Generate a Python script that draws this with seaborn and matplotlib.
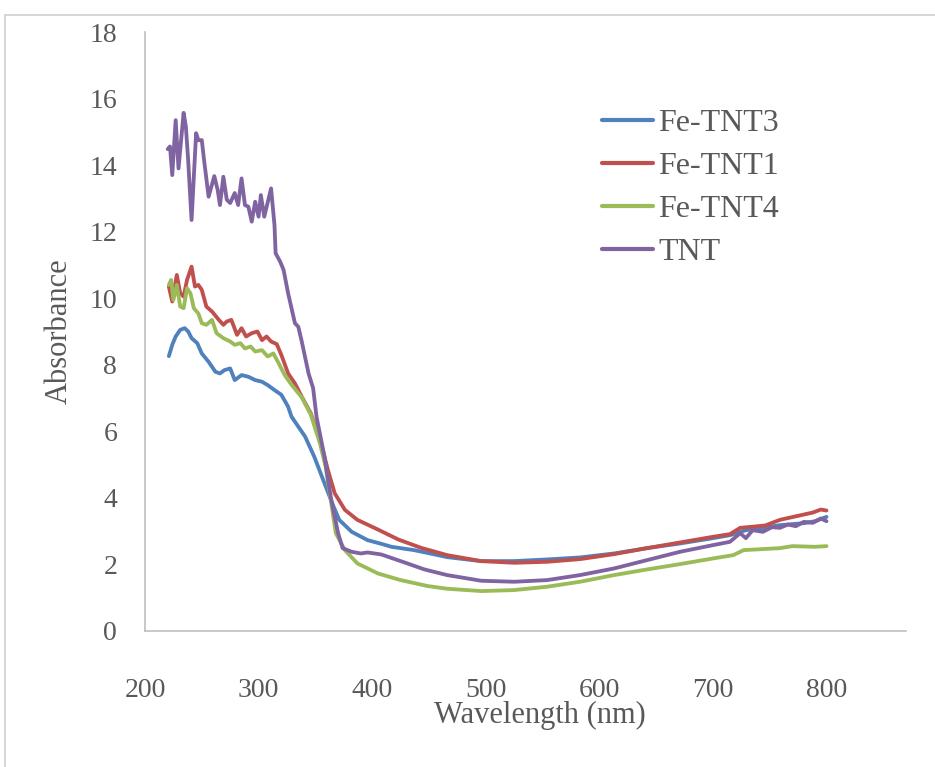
import pandas as pd
import matplotlib.pyplot as plt
import seaborn as sns
from matplotlib.patches import Rectangle

# Wavelength (nm) / absorbance pairs
wl_fe_tnt3 = [221, 224, 227, 231, 235, 238, 241, 246, 250, 256, 262, 266, 270, 275, 279,
              285, 291, 297, 303, 308, 314, 320, 326, 329, 341, 349, 358, 366, 371, 382,
              396, 408, 417, 437, 458, 466, 496, 525, 554, 583, 613, 642, 671, 700, 715,
              729, 745, 759, 780, 790, 800]
abs_fe_tnt3 = [8.26, 8.6, 8.85, 9.05, 9.1, 9.0, 8.8, 8.65, 8.34, 8.09, 7.79, 7.74, 7.84, 7.89, 7.54,
               7.69, 7.64, 7.54, 7.49, 7.39, 7.24, 7.1, 6.74, 6.44, 5.84, 5.24, 4.44, 3.74, 3.34, 2.98,
               2.73, 2.62, 2.53, 2.43, 2.28, 2.22, 2.1, 2.1, 2.15, 2.21, 2.33, 2.49, 2.63, 2.79, 2.88,
               3.03, 3.1, 3.18, 3.24, 3.3, 3.43]

wl_fe_tnt1 = [221, 224, 228, 231, 234, 237, 241, 244, 247, 250, 254, 259, 265, 269, 272,
              276, 281, 285, 289, 294, 299, 303, 307, 311, 316, 320, 326, 332, 338, 346,
              355, 361, 367, 376, 387, 405, 423, 443, 466, 496, 525, 554, 583, 613, 642,
              671, 700, 715, 724, 746, 759, 788, 795, 800]
abs_fe_tnt1 = [10.35, 9.9, 10.7, 10.15, 10.05, 10.55, 10.95, 10.35, 10.4, 10.25, 9.75, 9.6, 9.35, 9.2, 9.3,
               9.35, 8.9, 9.1, 8.85, 8.95, 9.0, 8.74, 8.85, 8.7, 8.62, 8.3, 7.74, 7.44, 7.04, 6.54,
               5.64, 4.84, 4.14, 3.64, 3.34, 3.05, 2.75, 2.5, 2.28, 2.1, 2.05, 2.08, 2.16, 2.31, 2.49,
               2.66, 2.83, 2.91, 3.1, 3.17, 3.34, 3.56, 3.65, 3.62]

wl_fe_tnt4 = [221, 223, 225, 228, 231, 234, 237, 240, 243, 247, 250, 254, 259, 263, 269,
              275, 279, 284, 288, 293, 297, 303, 308, 313, 317, 323, 329, 338, 346, 354,
              359, 364, 368, 376, 387, 405, 425, 449, 466, 496, 525, 554, 583, 613, 642,
              671, 700, 718, 727, 759, 770, 790, 800]
abs_fe_tnt4 = [10.4, 10.55, 9.95, 10.4, 9.75, 9.7, 10.3, 10.15, 9.7, 9.54, 9.25, 9.2, 9.35, 8.95, 8.8,
               8.7, 8.6, 8.65, 8.49, 8.55, 8.4, 8.44, 8.25, 8.34, 8.09, 7.69, 7.4, 7.02, 6.5, 5.64,
               4.94, 3.84, 2.94, 2.43, 2.03, 1.73, 1.53, 1.35, 1.27, 1.2, 1.23, 1.33, 1.48, 1.68, 1.85,
               2.01, 2.18, 2.28, 2.43, 2.49, 2.55, 2.53, 2.55]

wl_tnt = [220, 222, 224, 227, 229.5, 234, 236, 238, 241, 245, 247, 250, 252, 256, 261,
          264, 266, 269, 272, 275, 279, 282, 285, 288, 291, 294, 297, 300, 302, 305,
          311, 314, 315, 319, 322, 326, 332, 335, 338, 344, 348, 351, 358, 364, 370,
          374, 382, 390, 396, 402, 408, 414, 431, 446, 466, 496, 525, 554, 583, 613,
          642, 671, 700, 715, 724, 729, 735, 744, 752, 759, 766, 773, 780, 788, 795, 800]
abs_tnt = [14.48, 14.56, 13.7, 15.35, 13.9, 15.57, 15.15, 14.15, 12.35, 14.96, 14.75, 14.75, 14.15, 13.05, 13.67,
           13.25, 12.8, 13.65, 12.96, 12.86, 13.16, 12.8, 13.6, 12.8, 12.75, 12.3, 12.9, 12.45, 13.1, 12.45,
           13.3, 12.2, 11.35, 11.1, 10.85, 10.15, 9.25, 9.14, 8.7, 7.74, 7.3, 6.44, 5.24, 3.94, 2.94,
           2.49, 2.38, 2.33, 2.36, 2.33, 2.3, 2.23, 2.03, 1.85, 1.68, 1.51, 1.48, 1.53, 1.68, 1.88,
           2.13, 2.38, 2.58, 2.68, 2.94, 2.79, 3.03, 2.98, 3.12, 3.1, 3.2, 3.15, 3.28, 3.25, 3.38, 3.3]

sample_names = ["Fe-TNT3", "Fe-TNT1", "Fe-TNT4", "TNT"]
sample_colors = ["#4F81BD", "#C0504D", "#9BBB59", "#8064A2"]

x_ticks = [200, 300, 400, 500, 600, 700, 800]
y_ticks = [0, 2, 4, 6, 8, 10, 12, 14, 16, 18]

frames = []
for name, wl, ab in zip(sample_names,
                        [wl_fe_tnt3, wl_fe_tnt1, wl_fe_tnt4, wl_tnt],
                        [abs_fe_tnt3, abs_fe_tnt1, abs_fe_tnt4, abs_tnt]):
    frames.append(pd.DataFrame({"Wavelength": wl, "Absorbance": ab, "Sample": name}))
df = pd.concat(frames, ignore_index=True)

sns.set_style("white")
plt.rcParams["font.family"] = ["Liberation Serif", "DejaVu Serif"]
text_color = "#595959"

fig = plt.figure(figsize=(9.35, 7.67), dpi=100)
ax = fig.add_axes([145 / 935, 1 - 631 / 767, (906 - 145) / 935, (631 - 32) / 767])

# light outer chart border
fig.patches.append(Rectangle((5 / 935, -0.1), 1.2, 1 - 15 / 767 + 0.1,
                             transform=fig.transFigure, fill=False,
                             edgecolor="#d0d0d0", linewidth=1.2))

sns.lineplot(data=df, x="Wavelength", y="Absorbance", hue="Sample",
             hue_order=sample_names, palette=sample_colors,
             estimator=None, sort=False, linewidth=2.75, ax=ax)

ax.set_xlim(200, 870)
ax.set_ylim(0, 18)
ax.set_xticks(x_ticks)
ax.set_yticks(y_ticks)
ax.tick_params(axis="both", length=0, labelsize=20, labelcolor=text_color)
ax.tick_params(axis="x", pad=34)
ax.tick_params(axis="y", pad=20)

for side in ["top", "right"]:
    ax.spines[side].set_visible(False)
for side in ["left", "bottom"]:
    ax.spines[side].set_color("#bfbfbf")
    ax.spines[side].set_linewidth(1.2)

ax.set_xlabel("Wavelength (nm)", fontsize=22, color=text_color)
ax.set_ylabel("Absorbance", fontsize=22, color=text_color)
ax.xaxis.set_label_coords(0.519, -0.117)
ax.yaxis.set_label_coords(-0.093, 0.5)

leg = ax.legend(loc="upper left", bbox_to_anchor=(0.58, 0.898), frameon=False,
                fontsize=23, handlelength=1.6, handletextpad=0.15,
                labelspacing=0.42, borderpad=0)
for line in leg.get_lines():
    line.set_linewidth(3)
for txt in leg.get_texts():
    txt.set_color(text_color)

fig.savefig("out.png", dpi=100)
